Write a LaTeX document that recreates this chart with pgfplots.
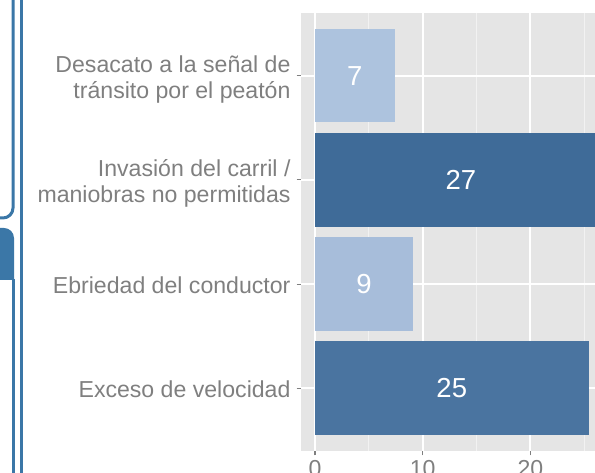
\documentclass[border=0pt]{standalone}
\usepackage{pgfplots}
\pgfplotsset{compat=1.18}
\usepackage{fontspec}
\setmainfont{Liberation Sans}
\definecolor{deco}{HTML}{3B77A7}
\definecolor{panelbg}{HTML}{E5E5E5}
\definecolor{gridminor}{HTML}{F2F2F2}
\definecolor{labgrey}{HTML}{7F7F7F}
\definecolor{cA}{HTML}{ADC3DE}
\definecolor{cB}{HTML}{A7BDDA}
\definecolor{cC}{HTML}{3F6B98}
\definecolor{cD}{HTML}{4A74A0}
\begin{document}
\begin{tikzpicture}[x=1bp,y=1bp]
\useasboundingbox (0,0) rectangle (595,473);
\clip (0,0) rectangle (595,473);
\draw[deco, line width=3bp] (13,476) -- (13,265) arc[start angle=0,end angle=-90,radius=10] -- (-3,255);
\draw[deco, line width=3bp] (21,476) -- (21,-3);
\fill[deco] (-3,193) -- (-3,245) -- (4,245) arc[start angle=90,end angle=0,radius=10] -- (14,193) -- cycle;
\draw[deco, line width=3bp] (13,194) -- (13,-3);
\begin{axis}[
  at={(301bp,22bp)}, anchor=south west,
  scale only axis, width=323.1bp, height=438bp,
  xmin=-1.3, xmax=28.7, ymin=0.4, ymax=4.6,
  axis background/.style={fill=panelbg},
  axis line style={draw=none},
  xtick={0,10,20}, minor xtick={5,15,25},
  ytick={1,2,3,4},
  yticklabels={Exceso de velocidad, Ebriedad del conductor, {\rule{0pt}{22.6bp}Invasión del carril /\\maniobras no permitidas}, {\rule{0pt}{22.6bp}Desacato a la señal de\\tránsito por el peatón}},
  yticklabel style={align=right, font=\fontsize{23.1bp}{26.3bp}\selectfont, text=labgrey, xshift=-2.5bp, yshift=-1bp},
  xticklabel style={font=\fontsize{23.1bp}{25bp}\selectfont, text=labgrey, yshift=-1.5bp},
  /pgf/number format/assume math mode=true,
  grid=both, major grid style={white, line width=2bp}, minor grid style={gridminor, line width=1bp},
  tick align=outside, major tick length=4.5bp, minor tick length=0pt,
  tick style={labgrey, line width=1.1bp},
  xtick pos=lower, ytick pos=left,
]
\addplot[xbar, bar width=0.9, bar shift=0pt, fill=cA, draw=none] coordinates {(7.4,4)};
\addplot[xbar, bar width=0.9, bar shift=0pt, fill=cC, draw=none] coordinates {(27.1,3)};
\addplot[xbar, bar width=0.9, bar shift=0pt, fill=cB, draw=none] coordinates {(9.1,2)};
\addplot[xbar, bar width=0.9, bar shift=0pt, fill=cD, draw=none] coordinates {(25.4,1)};
\addplot[only marks, mark=*, mark size=0pt, mark options={draw=none,fill=none},
  nodes near coords, point meta=explicit symbolic,
  nodes near coords style={anchor=center, text=white, font=\fontsize{27.5bp}{30bp}\selectfont}]
  coordinates {(3.7,4)[7] (13.55,3)[27] (4.55,2)[9] (12.7,1)[25]};
\end{axis}
\end{tikzpicture}
\end{document}
